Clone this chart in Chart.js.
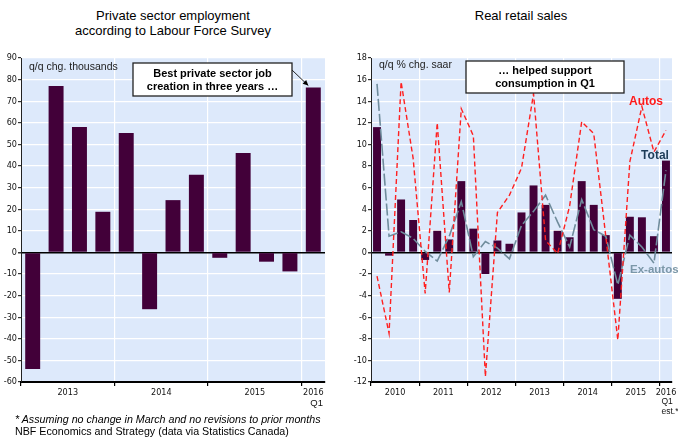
<!DOCTYPE html>
<html><head><meta charset="utf-8">
<script src="https://cdn.jsdelivr.net/npm/chart.js@4.4.0/dist/chart.umd.min.js"></script>
<style>
body{margin:0;width:678px;height:441px;background:#fff;position:relative;overflow:hidden;font-family:'Liberation Sans',Arial,sans-serif;}
.t{position:absolute;text-align:center;font-size:13px;color:#000;line-height:15px;}
#w1{position:absolute;left:0;top:0;width:335px;height:441px;}
#w2{position:absolute;left:340px;top:0;width:338px;height:441px;}
.fn{position:absolute;left:15px;font-size:10.7px;color:#000;white-space:nowrap;}
</style></head><body>
<div class="t" style="left:73px;width:200px;top:8px">Private sector employment<br>according to Labour Force Survey</div>
<div class="t" style="left:421px;width:200px;top:8px">Real retail sales</div>
<div id="w1"><canvas id="c1"></canvas></div>
<div id="w2"><canvas id="c2"></canvas></div>
<div class="fn" style="top:413px;font-style:italic">* Assuming no change in March and no revisions to prior months</div>
<div class="fn" style="top:425px">NBF Economics and Strategy (data via Statistics Canada)</div>
<script>
// ---------- DATA ----------
const empQuarters = ['2013Q1','2013Q2','2013Q3','2013Q4','2014Q1','2014Q2','2014Q3','2014Q4','2015Q1','2015Q2','2015Q3','2015Q4','2016Q1'];
const empChange = [-54, 77, 58, 18.8, 55.3, -26.3, 24.2, 35.9, -2.5, 46, -4.3, -8.8, 76.3];
const empYearLabels = ['2013','2014','2015','2016'];
const empLastNote = ['Q1'];

const retailQuarters = ['2010Q1','2010Q2','2010Q3','2010Q4','2011Q1','2011Q2','2011Q3','2011Q4','2012Q1','2012Q2','2012Q3','2012Q4','2013Q1','2013Q2','2013Q3','2013Q4','2014Q1','2014Q2','2014Q3','2014Q4','2015Q1','2015Q2','2015Q3','2015Q4','2016Q1'];
const retailTotal = [11.6, -0.3, 4.9, 3.0, -0.7, 2.0, 1.2, 6.6, 2.2, -2.0, 1.1, 0.8, 3.7, 6.2, 4.4, 2.0, 1.4, 6.6, 4.4, 1.6, -4.3, 3.3, 3.25, 1.5, 8.5];
const retailAutos = [-2.2, -7.5, 15.8, 8.7, -3.8, 12.0, -3.7, 13.3, 10.8, -11.5, 3.7, 5.3, 7.8, 14.7, 1.1, -0.1, 4.3, 12.1, 11.0, 1.5, -8.1, 8.4, 13.5, 9.3, 11.3];
const retailExAutos = [15.6, 1.5, 1.9, 1.3, 0.1, -0.8, 1.5, 4.7, -0.4, 1.0, 0.4, -0.6, 2.5, 3.8, 5.3, 2.8, 0.5, 4.9, 2.1, 1.5, -3.0, 1.6, 0.5, -1.0, 7.6];
const retailYearLabels = ['2010','2011','2012','2013','2014','2015','2016'];
const retailLastNote = ['Q1','est.*'];

// ---------- STYLE ----------
const NARROW = "'Liberation Sans Narrow','Arial Narrow','DejaVu Sans Condensed',sans-serif";
const SANS = "'Liberation Sans',Arial,sans-serif";
const BAR = '#420039';
const AREA = '#dde9fb';

const bgPlugin = {id:'bg', beforeDraw(chart){const {ctx,chartArea:a}=chart; ctx.save(); ctx.fillStyle=AREA; ctx.fillRect(a.left,a.top,a.right-a.left,a.bottom-a.top); ctx.restore();}};

// year label positions built from the quarter counts
function yearAxis(n, labels, height){
  const pos = labels.map((l,k)=>{const s=4*k; const c=Math.min(4,n-s); return s+c/2;});
  const bounds = []; for(let v=0; v<n; v+=4) bounds.push(v);
  const vals = Array.from(new Set([...bounds, ...pos, n])).sort((a,b)=>a-b);
  return {
    type:'linear', position:'bottom', min:0, max:n, offset:false, bounds:'data',
    afterBuildTicks: s => { s.ticks = vals.map(v=>({value:v})); },
    afterFit: s => { s.height = height; },
    ticks:{autoSkip:false, maxRotation:0, minRotation:0, padding:1, color:'#111',
      font:{family:NARROW,size:9}, z:1,
      callback:(v)=>{const i=pos.indexOf(v); return i>=0?labels[i]:'';}},
    grid:{offset:false, drawOnChartArea:true, tickLength:4, lineWidth:1.2,
      color:c=> (c.tick && bounds.includes(c.tick.value) && c.tick.value>0)?'#ffffff':'rgba(0,0,0,0)',
      tickColor:c=> (c.tick && bounds.includes(c.tick.value))?'#000':'rgba(0,0,0,0)'},
    border:{color:'#000', width:2}
  };
}
function valueAxis(min,max,step,width){
  return {
    min, max, position:'left',
    afterFit: s => { s.width = width; },
    ticks:{stepSize:step, color:'#111', padding:1, font:{family:NARROW,size:9}},
    grid:{tickLength:3, lineWidth:c=>c.tick&&c.tick.value===0?1.5:1.2,
      color:c=>c.tick&&c.tick.value===0?'#000':'#ffffff', tickColor:'#333'},
    border:{color:'#222', width:1}
  };
}

// ---------- LEFT CHART ----------
const leftNotes = {id:'leftNotes', afterDraw(chart){
  const ctx=chart.ctx; ctx.save();
  ctx.font='10.5px '+SANS; ctx.fillStyle='#222'; ctx.textBaseline='middle'; ctx.textAlign='left';
  ctx.fillText('q/q chg. thousands', 29, 67);
  // last-year sub label
  ctx.fillStyle='#111'; ctx.font='9.5px '+SANS; ctx.textAlign='right';
  empLastNote.forEach((t,i)=>ctx.fillText(t, chart.chartArea.right-2, 403+i*10));
  // box
  ctx.fillStyle='#fff'; ctx.strokeStyle='#222'; ctx.lineWidth=1.3;
  ctx.fillRect(133,63,159,33); ctx.strokeRect(133,63,159,33);
  ctx.fillStyle='#000'; ctx.font='bold 11px '+SANS; ctx.textAlign='center';
  ctx.fillText('Best private sector job', 212.5, 74);
  ctx.fillText('creation in three years \u2026', 212.5, 86.5);
  // arrow to last bar
  const xs=chart.scales.x, ys=chart.scales.y, n=empChange.length;
  const tx=xs.getPixelForValue(n-1)-5, ty=ys.getPixelForValue(empChange[n-1])-2;
  const sx=292, sy=70;
  ctx.strokeStyle='#222'; ctx.lineWidth=1;
  ctx.beginPath(); ctx.moveTo(sx,sy); ctx.lineTo(tx,ty); ctx.stroke();
  const ang=Math.atan2(ty-sy,tx-sx);
  ctx.fillStyle='#000'; ctx.beginPath(); ctx.moveTo(tx,ty);
  ctx.lineTo(tx-6*Math.cos(ang-0.45), ty-6*Math.sin(ang-0.45));
  ctx.lineTo(tx-6*Math.cos(ang+0.45), ty-6*Math.sin(ang+0.45)); ctx.closePath(); ctx.fill();
  ctx.restore();
}};
new Chart(document.getElementById('c1'), {
  type:'bar',
  data:{labels:empQuarters, datasets:[{data:empChange, backgroundColor:BAR, borderWidth:0, categoryPercentage:1, barPercentage:0.64}]},
  options:{
    responsive:true, maintainAspectRatio:false, animation:false,
    layout:{padding:{top:58, left:0, right:10, bottom:29}},
    plugins:{legend:{display:false}, tooltip:{enabled:false}},
    scales:{
      x:{display:false, offset:true},
      yr: yearAxis(empQuarters.length, empYearLabels, 30),
      y: valueAxis(-60,90,10,21)
    }
  },
  plugins:[bgPlugin, leftNotes]
});

// ---------- RIGHT CHART ----------
const rightNotes = {id:'rightNotes', afterDraw(chart){
  const ctx=chart.ctx; ctx.save();
  ctx.font='10.5px '+SANS; ctx.fillStyle='#222'; ctx.textBaseline='middle'; ctx.textAlign='left';
  ctx.fillText('q/q % chg. saar', 39, 65);
  // last-year sub labels
  const n=retailTotal.length;
  const lx=chart.scales.x.getPixelForValue(n-1)-4.5;
  ctx.fillStyle='#111'; ctx.font='8.5px '+SANS;
  retailLastNote.forEach((t,i)=>ctx.fillText(t, lx, 402+i*9.5));
  ctx.fillStyle='#fff'; ctx.strokeStyle='#222'; ctx.lineWidth=1.3;
  ctx.fillRect(126,61,158,32); ctx.strokeRect(126,61,158,32);
  ctx.fillStyle='#000'; ctx.font='bold 11px '+SANS; ctx.textAlign='center';
  ctx.fillText('\u2026 helped support', 205, 71);
  ctx.fillText('consumption in Q1', 205, 83.5);
  ctx.font='bold 12px '+SANS;
  ctx.fillStyle='#ff1a1a'; ctx.fillText('Autos', 306, 102);
  ctx.fillStyle='#1d3c58'; ctx.fillText('Total', 315, 156);
  ctx.fillStyle='#7b97a8'; ctx.textAlign='left'; ctx.font='bold 11.5px '+SANS; ctx.fillText('Ex-autos', 290, 270);
  ctx.restore();
}};
new Chart(document.getElementById('c2'), {
  type:'bar',
  data:{labels:retailQuarters, datasets:[
    {type:'line', label:'Autos', data:retailAutos, borderColor:'#ff2020', borderWidth:1.4, borderDash:[5,3], pointRadius:0, tension:0, order:1},
    {type:'line', label:'Ex-autos', data:retailExAutos, borderColor:'#6f8c9c', borderWidth:1.6, borderDash:[12,3], pointRadius:0, tension:0, order:2},
    {type:'bar', label:'Total', data:retailTotal, backgroundColor:BAR, borderWidth:0, categoryPercentage:1, barPercentage:0.66, order:3}
  ]},
  options:{
    responsive:true, maintainAspectRatio:false, animation:false,
    layout:{padding:{top:58, left:0, right:6, bottom:29}},
    plugins:{legend:{display:false}, tooltip:{enabled:false}},
    scales:{
      x:{display:false, offset:true},
      yr: yearAxis(retailQuarters.length, retailYearLabels, 30),
      y: valueAxis(-12,18,2,31)
    }
  },
  plugins:[bgPlugin, rightNotes]
});
</script>
</body></html>
